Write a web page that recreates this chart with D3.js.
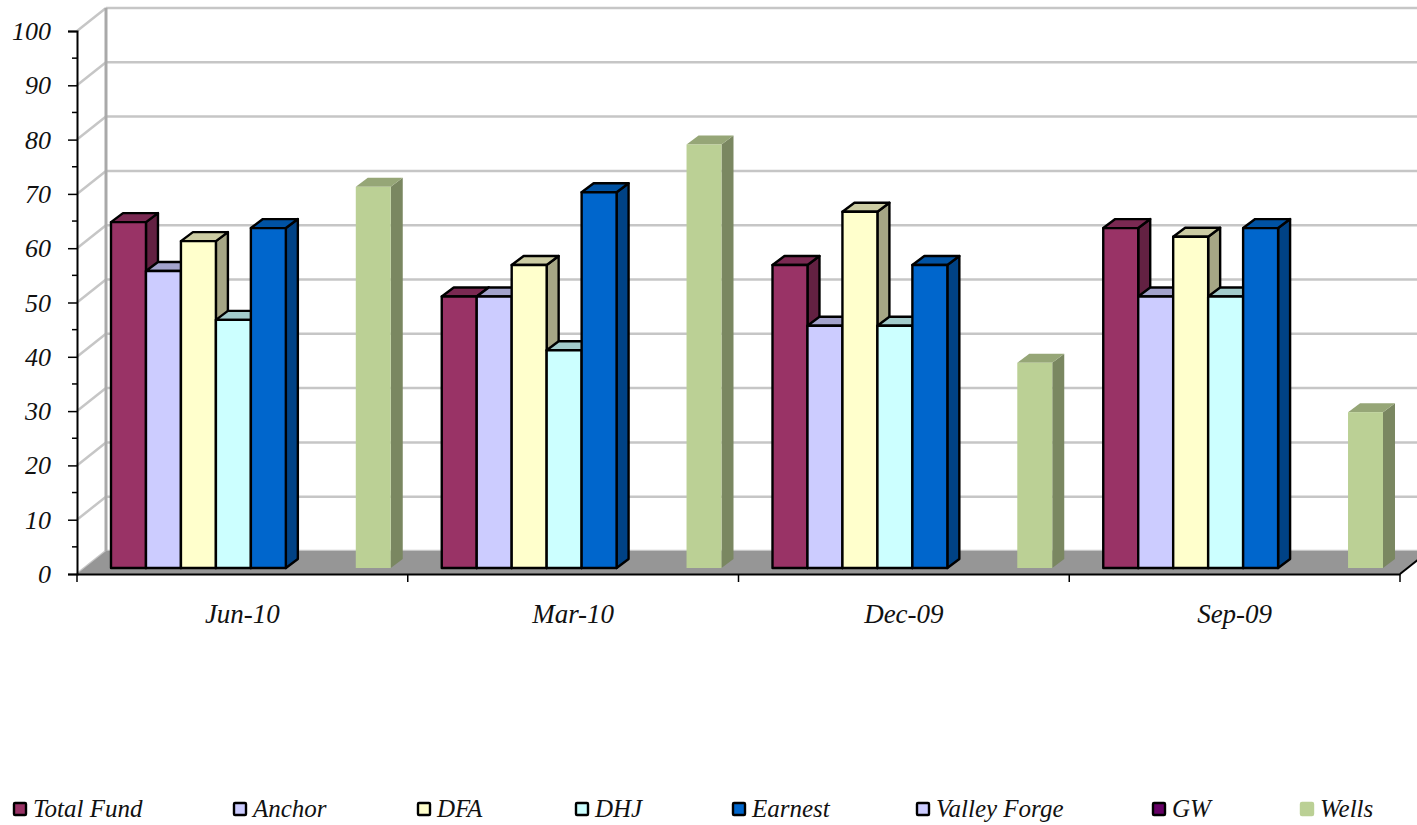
<!DOCTYPE html>
<meta charset="utf-8">
<style>
  html, body { margin: 0; background: #fff; overflow: hidden; }
  text { font-family: "Liberation Serif", serif; font-style: italic; fill: #111; }
  .tick text { font-size: 26px; }
  .x-axis .tick text { font-size: 27px; }
  .legend text { font-size: 25px; }
</style>
<svg id="chart" width="1417" height="825"></svg>
<script src="https://d3js.org/d3.v7.min.js"></script>
<script>
var quarters = ["Jun-10", "Mar-10", "Dec-09", "Sep-09"];
var funds = ["Total Fund", "Anchor", "DFA", "DHJ", "Earnest", "Valley Forge", "GW", "Wells"];
var fundColors = ["#993366", "#ccccff", "#ffffcc", "#ccffff", "#0066cc", "#ccccff", "#660066", "#bbd095"];

// one list per fund, same order as quarters; null = no bar
var totalFund = [63.7, 50, 55.8, 62.6];
var anchor = [54.7, 50, 44.6, 50];
var dfa = [60.2, 55.8, 65.6, 61];
var dhj = [45.7, 40.1, 44.6, 50];
var earnest = [62.6, 69.2, 55.8, 62.6];
var valleyForge = [null, null, null, null];
var gw = [null, null, null, null];
var wells = [70.2, 78, 37.8, 28.7];
var fundValues = [totalFund, anchor, dfa, dhj, earnest, valleyForge, gw, wells];

var legendX = [13, 233, 417, 575, 732, 916, 1152, 1300];

var svg = d3.select("#chart");

var left = 77, right = 1400, floorY = 574, topY = 31;
// oblique projection: back wall offset, bar front plane offset, bar depth
var wall = {dx: 29, dy: -23}, front = {dx: 8.5, dy: -6}, depth = {dx: 12, dy: -9};

var x = d3.scaleBand().domain(quarters).range([left, right]);
var inner = d3.scaleBand().domain(funds).range([25.5, x.bandwidth() - 25.5]);
var y = d3.scaleLinear().domain([0, 100]).range([floorY, topY]);

var majors = d3.range(0, 101, 10), minors = d3.range(5, 100, 10);
var gridColor = "#c6c6c6";

// side wall and back wall gridlines
var grid = svg.append("g").attr("fill", "none").attr("stroke", gridColor).attr("stroke-width", 2.5);
grid.selectAll(".back").data(majors).enter().append("line")
    .attr("x1", left + wall.dx).attr("x2", right + wall.dx)
    .attr("y1", function(d) { return y(d) + wall.dy; })
    .attr("y2", function(d) { return y(d) + wall.dy; });
grid.selectAll(".side").data(majors).enter().append("line")
    .attr("x1", left).attr("x2", left + wall.dx)
    .attr("y1", function(d) { return y(d); })
    .attr("y2", function(d) { return y(d) + wall.dy; });
svg.append("line")
    .attr("x1", left + wall.dx).attr("x2", left + wall.dx)
    .attr("y1", y(100) + wall.dy).attr("y2", y(0) + wall.dy)
    .attr("stroke", "#a9a9a9").attr("stroke-width", 3);

// floor
svg.append("polygon")
    .attr("fill", "#969696")
    .attr("points", [
      [left, y(0)], [left + wall.dx, y(0) + wall.dy],
      [right + wall.dx, y(0) + wall.dy], [right, y(0)]
    ].join(" "));

// bars, one quarter at a time from left to right
var rows = [];
quarters.forEach(function(q, qi) {
  funds.forEach(function(f, fi) {
    if (fundValues[fi][qi] != null) rows.push({quarter: q, fund: f, value: fundValues[fi][qi], color: fundColors[fi]});
  });
});

// Wells has no outline, the others a heavy black one
function outlineWidth(d) { return d.fund === "Wells" ? 0 : 2.4; }

var bar = svg.append("g").selectAll("g").data(rows).enter().append("g")
    .attr("stroke", "#000")
    .attr("stroke-width", outlineWidth)
    .attr("stroke-linejoin", "round");

function x0(d) { return x(d.quarter) + inner(d.fund) + front.dx; }
function x1(d) { return x0(d) + inner.bandwidth(); }
function yTop(d) { return y(d.value) + front.dy; }
function yBase() { return y(0) + front.dy; }

function shade(c, k) {
  var r = d3.rgb(c);
  return d3.rgb(r.r * k, r.g * k, r.b * k).formatHex();
}

// right side
bar.append("polygon")
    .attr("fill", function(d) { return shade(d.color, 0.65); })
    .attr("points", function(d) {
      return [[x1(d), yTop(d)], [x1(d) + depth.dx, yTop(d) + depth.dy],
              [x1(d) + depth.dx, yBase() + depth.dy], [x1(d), yBase()]].join(" ");
    });
// top
bar.append("polygon")
    .attr("fill", function(d) { return shade(d.color, 0.8); })
    .attr("points", function(d) {
      return [[x0(d), yTop(d)], [x0(d) + depth.dx, yTop(d) + depth.dy],
              [x1(d) + depth.dx, yTop(d) + depth.dy], [x1(d), yTop(d)]].join(" ");
    });
// front
bar.append("rect")
    .attr("fill", function(d) { return d.color; })
    .attr("x", x0)
    .attr("y", yTop)
    .attr("width", inner.bandwidth())
    .attr("height", function(d) { return yBase() - yTop(d); });

// value axis
var yAxis = svg.append("g").attr("class", "y-axis").attr("transform", "translate(" + left + ",0)")
    .call(d3.axisLeft(y).tickValues(majors).tickSize(9).tickPadding(17));
yAxis.selectAll(".tick text").attr("dy", "0.33em");
yAxis.select(".domain").attr("stroke", "#000").attr("stroke-width", 2);
yAxis.selectAll(".tick line").attr("stroke", "#000").attr("stroke-width", 1.5);
yAxis.append("g").selectAll("line").data(minors).enter().append("line")
    .attr("x1", -5).attr("x2", 0)
    .attr("y1", function(d) { return y(d); })
    .attr("y2", function(d) { return y(d); })
    .attr("stroke", "#000").attr("stroke-width", 1.5);

// category axis, ticks sit between the quarters
var xAxis = svg.append("g").attr("class", "x-axis").attr("transform", "translate(0," + floorY + ")")
    .call(d3.axisBottom(x).tickSize(0).tickPadding(30));
xAxis.select(".domain").attr("stroke", "#000").attr("stroke-width", 2);
xAxis.selectAll(".tick text").attr("text-anchor", "middle");
xAxis.append("g").selectAll("line").data(quarters.concat("end")).enter().append("line")
    .attr("x1", function(d, i) { return left + i * x.step(); })
    .attr("x2", function(d, i) { return left + i * x.step(); })
    .attr("y1", 0).attr("y2", 8)
    .attr("stroke", "#000").attr("stroke-width", 1.5);
// floor front-right edge
svg.append("line")
    .attr("x1", right).attr("y1", y(0))
    .attr("x2", right + wall.dx).attr("y2", y(0) + wall.dy)
    .attr("stroke", "#000").attr("stroke-width", 2);

// legend
var legend = svg.append("g").attr("class", "legend").selectAll("g").data(funds).enter().append("g")
    .attr("transform", function(d, i) { return "translate(" + legendX[i] + ",802)"; });
legend.append("rect")
    .attr("x", 1).attr("y", 1).attr("width", 12).attr("height", 12).attr("rx", 1)
    .attr("fill", function(d, i) { return fundColors[i]; })
    .attr("stroke", function(d, i) { return d === "Wells" ? fundColors[i] : "#000"; })
    .attr("stroke-width", 2.4);
legend.append("text").attr("x", 20).attr("y", 15).text(function(d) { return d; });
</script>
